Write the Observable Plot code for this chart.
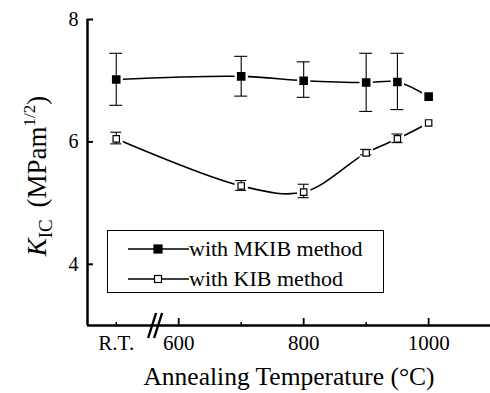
<!DOCTYPE html>
<html>
<head>
<meta charset="utf-8">
<script src="https://cdn.jsdelivr.net/npm/d3@7"></script>
<script src="https://cdn.jsdelivr.net/npm/@observablehq/plot@0.6"></script>
<style>
  body { margin: 0; background: #fff; }
  #wrap { position: relative; width: 490px; height: 393px; font-family: "Liberation Serif", "DejaVu Serif", serif; }
  #legend { position: absolute; left: 107px; top: 230px; width: 277px; height: 63px; border: 1px solid #000; box-sizing: border-box; background: #fff; font-size: 22px; }
  #legend .row { position: absolute; left: 0; height: 26px; display: flex; align-items: center; white-space: nowrap; }
  #legend svg { display: block; }
</style>
</head>
<body>
<div id="wrap"></div>
<script>
// Temperatures (R.T. is placed at 500 on the axis)
const temps = [500, 700, 800, 900, 950, 1000];
// MKIB method: mean and error bar ends
const mkib = [7.02, 7.07, 7.00, 6.97, 6.98, 6.74];
const mkibLo = [6.59, 6.74, 6.72, 6.49, 6.52, null];
const mkibHi = [7.44, 7.39, 7.30, 7.44, 7.44, null];
// KIB method
const kib = [6.05, 5.28, 5.18, 5.82, 6.05, 6.31];
const kibLo = [5.96, 5.20, 5.08, 5.78, 5.98, null];
const kibHi = [6.15, 5.36, 5.30, 5.87, 6.12, null];

const xMajor = [600, 800, 1000];
const xMinor = [500, 700, 900];
const xLabelTicks = [500, 600, 800, 1000];
const yTicks = [4, 6, 8];
const breakAt = [563];
const seriesNames = ["with MKIB method", "with KIB method"];

const rows = [];
temps.forEach((t, i) => {
  rows.push({series: "MKIB", x: t, y: mkib[i], lo: mkibLo[i], hi: mkibHi[i]});
  rows.push({series: "KIB", x: t, y: kib[i], lo: kibLo[i], hi: kibHi[i]});
});
const mk = rows.filter(d => d.series === "MKIB");
const kb = rows.filter(d => d.series === "KIB");
const withErr = rows.filter(d => d.lo != null);
const caps = withErr.flatMap(d => [{x: d.x, y: d.lo, series: d.series}, {x: d.x, y: d.hi, series: d.series}]);

const font = '"Liberation Serif", "DejaVu Serif", serif';

const chart = Plot.plot({
  width: 490,
  height: 393,
  marginLeft: 87,
  marginRight: 0,
  marginTop: 19,
  marginBottom: 68,
  style: {fontFamily: font, fontSize: "20px", background: "#fff", color: "#000", overflow: "visible"},
  x: {type: "linear", domain: [454, 1099]},
  y: {type: "linear", domain: [3, 8]},
  marks: [
    Plot.line(mk, {x: "x", y: "y", curve: "catmull-rom", stroke: "#000", strokeWidth: 1.6}),
    Plot.line(kb, {x: "x", y: "y", curve: "catmull-rom", stroke: "#000", strokeWidth: 1.6}),
    Plot.dot(rows, {x: "x", y: "y", symbol: "square", r: 7.5, fill: "#fff", stroke: "none"}),
    Plot.ruleX(withErr, {x: "x", y1: "lo", y2: "hi", stroke: "#000", strokeWidth: 1.1}),
    Plot.dot(mk, {x: "x", y: "y", symbol: "square", r: 4, fill: "#000", stroke: "#000"}),
    Plot.dot(kb, {x: "x", y: "y", symbol: "square", r: 3.6, fill: "#fff", stroke: "#000", strokeWidth: 1.2}),
    // axes lines
    Plot.ruleX([454], {stroke: "#000", strokeWidth: 2.5}),
    Plot.ruleY([3], {stroke: "#000", strokeWidth: 2.5}),
    // y axis
    Plot.axisY({ticks: yTicks, tickSize: -6, tickPadding: 15, strokeWidth: 2, tickFormat: d => String(d), label: null, fontSize: 20}),
    // x axis
    Plot.axisX({ticks: xMajor, tickSize: -7, strokeWidth: 1.8, tickFormat: () => "", label: null}),
    Plot.axisX({ticks: xMinor, tickSize: -3, strokeWidth: 1.5, tickFormat: () => "", label: null}),
    Plot.axisX({ticks: xLabelTicks, tickSize: 0, tickPadding: 10, tickFormat: d => d === 500 ? "R.T." : String(d), label: null, fontSize: 21})
  ]
});

const svg = d3.select(chart);
const xs = chart.scale("x"), ys = chart.scale("y");

// Error-bar caps drawn through the chart's own scales
const capG = svg.append("g").attr("stroke", "#000").attr("stroke-width", 1.1);
caps.forEach(d => {
  const px = xs.apply(d.x), py = ys.apply(d.y);
  const w = d.series === "MKIB" ? 6.5 : 5.5;
  capG.append("line").attr("x1", px - w).attr("x2", px + w).attr("y1", py).attr("y2", py);
});
// raise markers above caps
svg.selectAll("g[aria-label='dot']").filter((_, i) => i > 0).raise();

// Axis break marks
const brG = svg.append("g").attr("stroke", "#000").attr("stroke-width", 2.4);
breakAt.forEach(b => {
  const px = xs.apply(b), py = ys.apply(3);
  [-3, 3].forEach(o => {
    brG.append("line").attr("x1", px + o - 4).attr("y1", py + 13).attr("x2", px + o + 4).attr("y2", py - 12);
  });
});

// Titles
svg.append("text")
  .attr("x", 289).attr("y", 385)
  .attr("text-anchor", "middle")
  .attr("font-family", font).attr("font-size", 25.5)
  .text("Annealing Temperature (°C)");

const yt = svg.append("text")
  .attr("transform", "translate(46,176) rotate(-90)")
  .attr("text-anchor", "middle")
  .attr("font-family", font).attr("font-size", 27);
yt.append("tspan").attr("font-style", "italic").text("K");
yt.append("tspan").attr("font-size", 19).attr("dy", 6).text("IC");
yt.append("tspan").attr("dy", -6).attr("dx", 5).text(" (MPam");
yt.append("tspan").attr("font-size", 17).attr("dy", -11).text("1/2");
yt.append("tspan").attr("dy", 11).text(")");

const wrap = document.getElementById("wrap");
wrap.appendChild(chart);

// Legend
const legend = document.createElement("div");
legend.id = "legend";
const symbols = [
  {fill: "#000", size: 8, name: seriesNames[0], top: 5},
  {fill: "#fff", size: 7, name: seriesNames[1], top: 35}
];
symbols.forEach(s => {
  const row = document.createElement("div");
  row.className = "row";
  row.style.top = s.top + "px";
  row.style.left = "20px";
  const sv = d3.create("svg").attr("width", 61).attr("height", 26);
  sv.append("line").attr("x1", 0).attr("x2", 61).attr("y1", 13).attr("y2", 13).attr("stroke", "#000").attr("stroke-width", 1.3);
  sv.append("rect").attr("x", 30 - s.size / 2).attr("y", 13 - s.size / 2).attr("width", s.size).attr("height", s.size)
    .attr("fill", s.fill).attr("stroke", "#000").attr("stroke-width", 1.2);
  row.appendChild(sv.node());
  const t = document.createElement("span");
  t.textContent = s.name;
  row.appendChild(t);
  legend.appendChild(row);
});
wrap.appendChild(legend);
</script>
</body>
</html>
